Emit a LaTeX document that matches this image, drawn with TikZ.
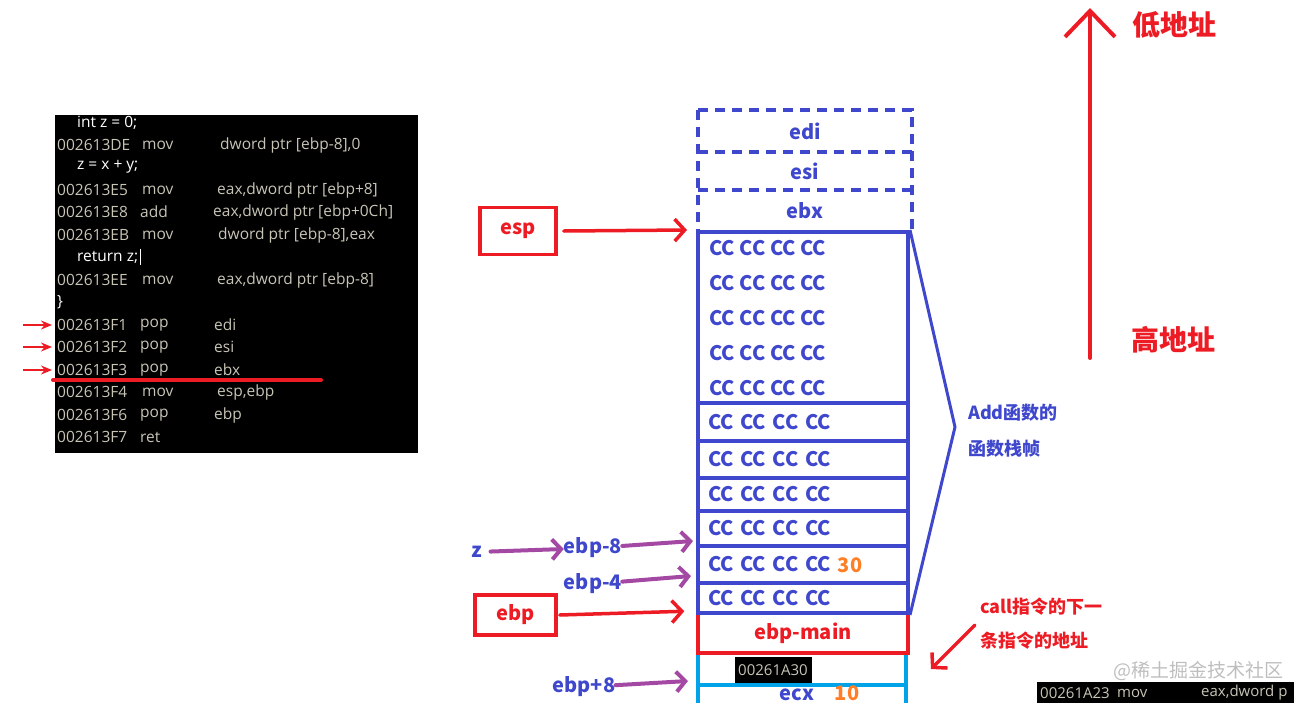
\documentclass[tikz,border=0pt]{standalone}
\usepackage{fontspec}
\setmainfont{Noto Sans CJK SC}
\newfontfamily\codefont{Open Sans}
\usetikzlibrary{arrows.meta, positioning}
\definecolor{stackblue}{RGB}{63,72,204}
\definecolor{markred}{RGB}{237,28,36}
\definecolor{ptrpurple}{RGB}{163,73,164}
\definecolor{valorange}{RGB}{255,127,39}
\definecolor{argblue}{RGB}{0,162,232}
\definecolor{codegray}{RGB}{200,196,182}
\definecolor{wmgray}{RGB}{190,190,190}

\begin{document}
\begin{tikzpicture}[x=1pt, y=-1pt,
        cell/.style={draw=stackblue, line width=4pt, minimum width=210pt, inner sep=0pt},
        row/.style={cell, text width=190pt, align=left, text=stackblue,
                    font=\bfseries\fontsize{20}{20}\selectfont},
        slot/.style={minimum width=214pt, inner sep=0pt, text=stackblue,
                     font=\bfseries\fontsize{20}{20}\selectfont},
        slotline/.style={draw=stackblue, line width=4pt, dash pattern=on 10pt off 7pt},
        cc/.style={font=\bfseries\fontsize{20}{20}\selectfont, text=stackblue, anchor=west, inner sep=0pt},
        tag/.style={font=\bfseries\fontsize{20}{20}\selectfont, text=stackblue, inner sep=0pt},
        regbox/.style={draw=markred, line width=3.5pt, text=markred, inner sep=0pt,
                       font=\bfseries\fontsize{20}{20}\selectfont},
        ptr/.style={draw=ptrpurple, line width=4pt, line cap=round,
                    -{Straight Barb[length=9pt, width=20pt]}},
        redptr/.style={draw=markred, line width=3.5pt, line cap=round,
                       -{Straight Barb[length=10pt, width=22pt]}},
        minired/.style={draw=markred, line width=2.5pt, -{Stealth[length=11pt, width=9pt]}},
        code/.style={font=\codefont\fontsize{15.5}{15.5}\selectfont, text=codegray, anchor=west, inner sep=0pt},
        src/.style={code, text=white},
        note/.style={font=\bfseries\fontsize{18}{18}\selectfont, anchor=west, inner sep=0pt}]
  \clip (0,0) rectangle (1294,702);

  % disassembly window
  \node[fill=black, minimum width=363pt, minimum height=338pt, inner sep=0pt] (panel) at (236.5,284) {};
  \node[src] (l1) at (77,123) {int z = 0;};
  \node[src] (l2) at (77,167) {z = x + y;};
  \node[src] (l3) at (77,257) {return z;};
  \node[src] (l4) at (57,302) {\}};
  \draw[white, line width=1pt] ([xshift=2pt, yshift=2pt]l3.north east) -- ([xshift=2pt, yshift=-2pt]l3.south east);
  \foreach \y/\a/\m/\mx/\o/\ox [count=\i] in {
      145/002613DE/mov/142/{dword ptr [ebp-8],0}/220,
      190/002613E5/mov/142/{eax,dword ptr [ebp+8]}/217,
      212/002613E8/add/140/{eax,dword ptr [ebp+0Ch]}/213,
      235/002613EB/mov/142/{dword ptr [ebp-8],eax}/218,
      280/002613EE/mov/142/{eax,dword ptr [ebp-8]}/217,
      325/002613F1/pop/140/edi/214,
      347/002613F2/pop/140/esi/214,
      370/002613F3/pop/140/ebx/214,
      392/002613F4/mov/142/{esp,ebp}/217,
      415/002613F6/pop/140/ebp/214,
      437/002613F7/ret/140/{}/214} {
    \node[code] (addr\i) at (57,\y) {\a};
    \node[code] at (\mx,\y) {\m};
    \node[code] at (\ox,\y) {\o};
  }
  \foreach \i in {6,7,8}
    \draw[minired] ([xshift=-34pt]addr\i.west) -- ([xshift=-5pt]addr\i.west);
  \draw[markred, line width=4pt, line cap=round] ([xshift=-4pt, yshift=-4pt]addr8.south west) -- ++(268,0);

  % stack frame
  \node[cell, draw=argblue, minimum width=208pt, minimum height=35pt] (arg2) at (802,702.5) {};
  \node[cell, draw=argblue, minimum width=208pt, minimum height=32pt] (arg1) at (802,669) {};
  \node[fill=black, text=codegray, font=\codefont\fontsize{15}{15}\selectfont, minimum width=77pt,
        minimum height=26pt, inner sep=0pt] (retaddr) at (773,670) {00261A30};
  \node[tag] (ecx) at (797,695) {ecx};
  \node[tag, text=valorange] (ten) at (847,693) {10};
  \node[cell, draw=markred, line width=3.5pt, minimum height=40pt, text=markred,
        font=\bfseries\fontsize{20}{20}\selectfont] (main) at (803,633) {ebp-main};

  \node[slot, minimum height=42pt] (edi) at (805,131) {edi};
  \node[slot, minimum height=38pt] (esi) at (805,171) {esi};
  \node[slot, minimum height=42pt] (ebx) at (805,211) {ebx};
  \draw[slotline] (edi.north west) rectangle (ebx.south east);
  \draw[slotline] (edi.south west) -- (edi.south east);
  \draw[slotline] (esi.south west) -- (esi.south east);
  \node[cell, minimum height=171pt] (frame) at (803,317.5) {};
  \foreach \y [count=\i] in {248,283,318,353,388}
    \node[cc] (cc\i) at (709,\y) {CC CC CC CC};
  \foreach \t/\b [count=\i] in {403/441, 441/478, 478/511, 511/546, 546/583, 583/613}
    \node[row, minimum height={\b-\t}] (r\i) at (803,{(\t+\b)/2}) {CC CC CC CC};
  \node[tag, text=valorange] (thirty) at (850,565) {30};

  % frame brace
  \coordinate (tip) at (955,427);
  \draw[stackblue, line width=3pt] (frame.north east) -- (tip) -- (r6.south east);
  \node[note, text=stackblue] (add1) at (968,413) {Add函数的};
  \node[note, text=stackblue] (add2) at (968,449) {函数栈帧};

  % registers
  \node[regbox, minimum width=76pt, minimum height=47pt] (esp) at (518,231) {esp};
  \node[regbox, minimum width=81pt, minimum height=40pt] (ebp) at (515.5,615) {ebp};
  \draw[redptr] ([xshift=6pt]esp.east) -- ([xshift=-9pt]frame.north west);
  \draw[redptr] ([xshift=2pt]ebp.east) -- ([xshift=-12pt]main.north west);

  % offsets
  \node[tag] (z) at (477,552) {z};
  \node[tag] (em8) at (593,548) {ebp-8};
  \node[tag] (em4) at (593,584) {ebp-4};
  \node[tag] (ep8) at (584,687) {ebp+8};
  \draw[ptr, shorten <=8pt] (z) -- (em8);
  \draw[ptr] (em8) -- ([xshift=-3pt, yshift=3pt]r5.north west);
  \draw[ptr] (em4) -- ([xshift=-5pt, yshift=5pt]r6.north west);
  \draw[ptr] (ep8) -- ([xshift=-8pt, yshift=2pt]arg2.north west);

  % address direction
  \node[font=\bfseries\fontsize{28}{28}\selectfont, text=markred] (low) at (1174,25) {低地址};
  \node[font=\bfseries\fontsize{28}{28}\selectfont, text=markred] (high) at (1173,340) {高地址};
  \coordinate (abot) at (1090,358);
  \coordinate (atop) at (1090,8);
  \draw[markred, line width=4pt, line cap=round, -{Straight Barb[length=26pt, width=50pt]}] (abot) -- (atop);

  % return address note
  \node[note, text=markred] (call1) at (980,607) {call指令的下一};
  \node[note, text=markred] (call2) at (980,641) {条指令的地址};
  \draw[redptr] ([xshift=-5pt, yshift=16pt]call2.west) -- ([xshift=23pt]arg1.east);

  % corner
  \node[font=\fontsize{19}{19}\selectfont, text=wmgray, anchor=west, inner sep=0pt] (wm) at (1113,671) {@稀土掘金技术社区};
  \node[fill=black, anchor=north west, minimum width=260pt, minimum height=22pt, inner sep=0pt] (bar) at (1037,682) {};
  \node[code, font=\codefont\fontsize{15}{15}\selectfont] (baraddr) at (1040,693) {00261A23};
  \node[code, font=\codefont\fontsize{15}{15}\selectfont] (barmn) at (1117,693) {mov};
  \node[code, font=\codefont\fontsize{15}{15}\selectfont] (barop) at (1201,693) {eax,dword p};
\end{tikzpicture}
\end{document}
